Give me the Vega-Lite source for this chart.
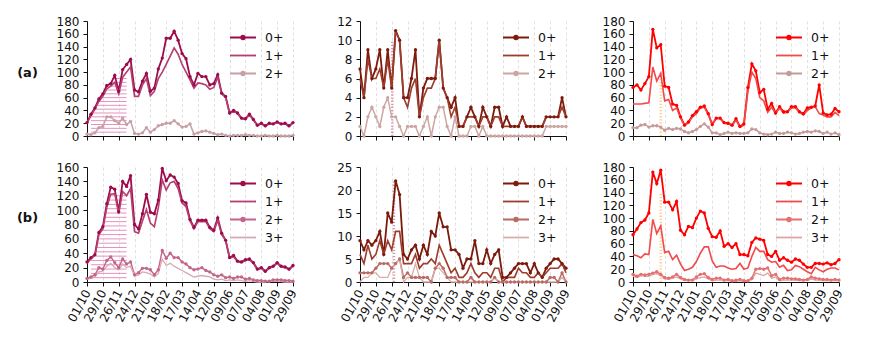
{
"$schema":"https://vega.github.io/schema/vega-lite/v6.json",
"padding":{"left":16,"top":15,"right":5,"bottom":5},
"config":{"font":"DejaVu Sans","view":{"stroke":null},
"axis":{"labelFontSize":12,"labelColor":"#111","domainColor":"#111","tickColor":"#111","tickSize":4,"labelPadding":4,"domainWidth":1,"tickWidth":1,"grid":false},
"axisX":{"grid":true,"gridColor":"#d9d9d9","gridDash":[3,2.5],"gridWidth":0.8,"labelOverlap":false,"labelFlush":false},
"legend":{"orient":"top-right","offset":9,"padding":0,"labelFontSize":12.5,"labelColor":"#111","symbolSize":169,"labelOffset":8,"rowPadding":4,"symbolStrokeWidth":1.8}},
"datasets":{
"series":[
{"p":"a1","d":[1569888000000,1570492800000,1571097600000,1571702400000,1572307200000,1572912000000,1573516800000,1574121600000,1574726400000,1575331200000,1575936000000,1576540800000,1577145600000,1577750400000,1578355200000,1578960000000,1579564800000,1580169600000,1580774400000,1581379200000,1581984000000,1582588800000,1583193600000,1583798400000,1584403200000,1585008000000,1585612800000,1586217600000,1586822400000,1587427200000,1588032000000,1588636800000,1589241600000,1589846400000,1590451200000,1591056000000,1591660800000,1592265600000,1592870400000,1593475200000,1594080000000,1594684800000,1595289600000,1595894400000,1596499200000,1597104000000,1597708800000,1598313600000,1598918400000,1599523200000,1600128000000,1600732800000,1601337600000],
"s0":[21,34,44,58,66,79,82,95,70,104,112,120,72,69,86,98,70,75,105,122,153,153,164,150,129,121,93,80,98,93,93,80,82,96,67,62,36,40,36,28,27,34,26,17,20,16,20,19,22,19,20,16,21],
"s1":[20,32,42,54,62,74,78,84,66,92,100,108,62,62,80,90,63,70,90,100,112,125,138,128,112,100,88,75,83,82,80,73,76,92,66,60,35,39,35,27,26,33,25,16,19,15,19,18,21,18,19,15,20],
"s2":[3,2,5,13,15,30,30,24,20,28,18,23,4,3,5,13,6,10,16,18,20,20,24,19,14,15,19,3,5,7,8,6,4,2,3,1,0,1,1,1,2,1,1,0,0,1,0,0,1,0,0,0,1]},
{"p":"a2","d":[1569888000000,1570492800000,1571097600000,1571702400000,1572307200000,1572912000000,1573516800000,1574121600000,1574726400000,1575331200000,1575936000000,1576540800000,1577145600000,1577750400000,1578355200000,1578960000000,1579564800000,1580169600000,1580774400000,1581379200000,1581984000000,1582588800000,1583193600000,1583798400000,1584403200000,1585008000000,1585612800000,1586217600000,1586822400000,1587427200000,1588032000000,1588636800000,1589241600000,1589846400000,1590451200000,1591056000000,1591660800000,1592265600000,1592870400000,1593475200000,1594080000000,1594684800000,1595289600000,1595894400000,1596499200000,1597104000000,1597708800000,1598313600000,1598918400000,1599523200000,1600128000000,1600732800000,1601337600000],
"s0":[7,4,9,6,7,9,5,9,5,11,10,4,4,6,9,2,5,6,6,6,10,5,4,3,4,1,1,2,3,2,1,3,2,1,3,3,1,2,1,1,1,2,1,1,1,1,1,2,2,2,2,4,2],
"s1":[6,4,8,6,6,7,5,8,5,11,10,4,3,5,6,2,4,5,5,6,10,5,4,2,3,1,1,2,2,2,1,2,2,1,2,2,1,1,1,1,1,2,1,1,1,1,1,2,2,2,2,3,2],
"s2":[1,0,2,3,2,1,3,4,2,2,1,0,1,1,1,0,1,2,0,2,3,3,1,0,2,0,0,0,1,1,0,1,0,0,0,0,0,0,0,0,0,0,0,0,0,0,0,1,1,1,1,1,1]},
{"p":"a3","d":[1569888000000,1570492800000,1571097600000,1571702400000,1572307200000,1572912000000,1573516800000,1574121600000,1574726400000,1575331200000,1575936000000,1576540800000,1577145600000,1577750400000,1578355200000,1578960000000,1579564800000,1580169600000,1580774400000,1581379200000,1581984000000,1582588800000,1583193600000,1583798400000,1584403200000,1585008000000,1585612800000,1586217600000,1586822400000,1587427200000,1588032000000,1588636800000,1589241600000,1589846400000,1590451200000,1591056000000,1591660800000,1592265600000,1592870400000,1593475200000,1594080000000,1594684800000,1595289600000,1595894400000,1596499200000,1597104000000,1597708800000,1598313600000,1598918400000,1599523200000,1600128000000,1600732800000,1601337600000],
"s0":[76,80,72,82,93,167,138,143,78,76,50,48,30,17,22,32,38,45,47,35,18,28,28,21,20,17,27,15,19,76,113,102,68,73,42,51,36,46,38,38,46,46,38,35,44,45,47,80,36,33,34,43,38],
"s1":[50,50,50,51,52,108,86,98,55,57,40,44,28,17,20,30,35,44,45,33,18,27,27,20,19,16,25,14,17,70,100,90,60,55,37,45,35,44,36,37,44,44,37,33,40,44,46,35,33,30,30,37,32],
"s2":[13,13,17,18,14,16,16,14,9,12,10,12,11,7,5,7,10,15,19,14,5,5,2,4,6,4,5,4,4,5,11,10,5,3,2,3,6,4,4,6,5,3,4,6,7,6,8,7,4,6,3,5,2]},
{"p":"b1","d":[1569888000000,1570492800000,1571097600000,1571702400000,1572307200000,1572912000000,1573516800000,1574121600000,1574726400000,1575331200000,1575936000000,1576540800000,1577145600000,1577750400000,1578355200000,1578960000000,1579564800000,1580169600000,1580774400000,1581379200000,1581984000000,1582588800000,1583193600000,1583798400000,1584403200000,1585008000000,1585612800000,1586217600000,1586822400000,1587427200000,1588032000000,1588636800000,1589241600000,1589846400000,1590451200000,1591056000000,1591660800000,1592265600000,1592870400000,1593475200000,1594080000000,1594684800000,1595289600000,1595894400000,1596499200000,1597104000000,1597708800000,1598313600000,1598918400000,1599523200000,1600128000000,1600732800000,1601337600000],
"s0":[28,34,38,69,77,109,132,129,98,140,133,148,80,74,95,122,97,95,114,158,141,149,146,137,113,110,87,76,86,86,86,76,72,89,68,58,34,37,29,28,31,32,27,18,20,15,20,22,27,22,21,18,23],
"s1":[26,32,37,66,74,104,122,123,95,126,120,130,70,68,85,101,82,77,103,142,128,138,140,130,110,105,85,74,84,84,84,74,70,86,66,58,33,35,28,27,30,31,26,17,19,14,19,21,26,21,20,17,22],
"s2":[5,7,10,20,18,30,35,27,20,32,25,28,10,13,19,19,17,10,17,44,33,40,34,34,28,25,20,17,18,20,16,14,10,8,10,6,7,5,7,7,4,5,3,2,2,1,1,3,3,3,2,2,1],
"s3":[4,5,7,14,15,22,26,20,17,25,20,22,8,10,14,13,11,7,12,32,23,26,22,19,16,13,10,7,8,9,8,7,4,3,4,2,3,2,3,2,1,2,1,0,0,0,1,1,1,1,0,0,0]},
{"p":"b2","d":[1569888000000,1570492800000,1571097600000,1571702400000,1572307200000,1572912000000,1573516800000,1574121600000,1574726400000,1575331200000,1575936000000,1576540800000,1577145600000,1577750400000,1578355200000,1578960000000,1579564800000,1580169600000,1580774400000,1581379200000,1581984000000,1582588800000,1583193600000,1583798400000,1584403200000,1585008000000,1585612800000,1586217600000,1586822400000,1587427200000,1588032000000,1588636800000,1589241600000,1589846400000,1590451200000,1591056000000,1591660800000,1592265600000,1592870400000,1593475200000,1594080000000,1594684800000,1595289600000,1595894400000,1596499200000,1597104000000,1597708800000,1598313600000,1598918400000,1599523200000,1600128000000,1600732800000,1601337600000],
"s0":[9,7,9,8,9,11,6,15,13,22,19,6,5,7,8,5,8,6,11,10,15,12,12,7,7,6,3,5,5,9,4,4,7,4,6,7,1,1,2,3,4,4,4,2,4,2,1,3,4,5,5,4,3],
"s1":[6,4,8,5,6,9,6,9,7,11,11,4,4,4,6,3,4,4,5,4,8,6,4,2,3,1,1,2,4,2,1,2,2,1,3,3,0,1,1,1,3,2,2,1,1,2,1,2,3,3,3,4,2],
"s2":[2,2,2,2,3,4,4,4,3,4,5,1,2,1,1,1,1,1,0,3,4,3,1,1,1,0,0,0,1,0,0,0,0,0,1,0,0,0,0,0,0,0,0,0,0,0,0,0,1,1,0,2,0],
"s3":[0,1,1,2,2,1,1,1,3,4,5,0,1,1,4,1,0,0,0,3,3,2,1,0,0,0,0,0,0,0,0,0,0,0,1,0,0,0,0,0,0,0,0,0,0,0,0,0,0,0,0,1,0]},
{"p":"b3","d":[1569888000000,1570492800000,1571097600000,1571702400000,1572307200000,1572912000000,1573516800000,1574121600000,1574726400000,1575331200000,1575936000000,1576540800000,1577145600000,1577750400000,1578355200000,1578960000000,1579564800000,1580169600000,1580774400000,1581379200000,1581984000000,1582588800000,1583193600000,1583798400000,1584403200000,1585008000000,1585612800000,1586217600000,1586822400000,1587427200000,1588032000000,1588636800000,1589241600000,1589846400000,1590451200000,1591056000000,1591660800000,1592265600000,1592870400000,1593475200000,1594080000000,1594684800000,1595289600000,1595894400000,1596499200000,1597104000000,1597708800000,1598313600000,1598918400000,1599523200000,1600128000000,1600732800000,1601337600000],
"s0":[74,83,93,97,108,172,154,175,125,125,113,126,81,74,87,85,100,111,108,84,71,70,80,56,60,54,60,43,43,41,62,69,67,65,43,40,48,34,38,34,31,36,34,28,23,23,29,29,28,30,27,29,35],
"s1":[43,41,38,44,43,98,76,88,46,48,35,42,28,18,20,23,32,45,55,55,33,23,25,25,22,20,21,29,20,22,40,54,48,48,35,31,32,23,26,18,19,26,24,20,16,13,23,19,16,20,22,22,19],
"s2":[12,9,12,11,12,14,16,12,7,6,8,12,7,4,3,3,8,12,13,7,4,6,6,3,4,2,3,4,2,2,6,20,21,20,22,10,12,4,6,6,5,5,4,3,4,8,6,5,4,4,3,4,3],
"s3":[9,7,10,9,9,12,13,10,5,4,6,8,5,2,2,2,5,7,8,5,2,3,3,2,2,1,1,2,1,1,4,14,12,10,14,6,8,2,3,3,3,3,2,2,2,5,3,3,2,2,2,2,2]}
],
"hatch":[
{"p":"a1","v":6,"d":"2019-10-08","d2":"2019-12-10"},{"p":"a1","v":12,"d":"2019-10-08","d2":"2019-12-10"},{"p":"a1","v":18,"d":"2019-10-08","d2":"2019-12-10"},{"p":"a1","v":24,"d":"2019-10-08","d2":"2019-12-10"},{"p":"a1","v":30,"d":"2019-10-08","d2":"2019-12-10"},{"p":"a1","v":36,"d":"2019-10-09","d2":"2019-12-10"},{"p":"a1","v":42,"d":"2019-10-14","d2":"2019-12-10"},{"p":"a1","v":48,"d":"2019-10-17","d2":"2019-12-10"},{"p":"a1","v":54,"d":"2019-10-20","d2":"2019-12-10"},{"p":"a1","v":60,"d":"2019-10-24","d2":"2019-12-10"},{"p":"a1","v":66,"d":"2019-10-29","d2":"2019-12-10"},{"p":"a1","v":72,"d":"2019-11-01","d2":"2019-12-10"},{"p":"a1","v":78,"d":"2019-11-05","d2":"2019-12-10"},{"p":"a1","v":84,"d":"2019-11-13","d2":"2019-12-10"},{"p":"a1","v":90,"d":"2019-11-16","d2":"2019-12-10"},
{"p":"b1","v":6,"d":"2019-10-08","d2":"2019-12-10"},{"p":"b1","v":12,"d":"2019-10-08","d2":"2019-12-10"},{"p":"b1","v":18,"d":"2019-10-08","d2":"2019-12-10"},{"p":"b1","v":24,"d":"2019-10-08","d2":"2019-12-10"},{"p":"b1","v":30,"d":"2019-10-08","d2":"2019-12-10"},{"p":"b1","v":36,"d":"2019-10-12","d2":"2019-12-10"},{"p":"b1","v":42,"d":"2019-10-16","d2":"2019-12-10"},{"p":"b1","v":48,"d":"2019-10-17","d2":"2019-12-10"},{"p":"b1","v":54,"d":"2019-10-19","d2":"2019-12-10"},{"p":"b1","v":60,"d":"2019-10-20","d2":"2019-12-10"},{"p":"b1","v":66,"d":"2019-10-21","d2":"2019-12-10"},{"p":"b1","v":72,"d":"2019-10-25","d2":"2019-12-10"},{"p":"b1","v":78,"d":"2019-10-29","d2":"2019-12-10"},{"p":"b1","v":84,"d":"2019-10-31","d2":"2019-12-10"},{"p":"b1","v":90,"d":"2019-11-01","d2":"2019-12-10"},{"p":"b1","v":96,"d":"2019-11-02","d2":"2019-12-10"},{"p":"b1","v":102,"d":"2019-11-04","d2":"2019-12-10"},{"p":"b1","v":108,"d":"2019-11-05","d2":"2019-12-10"},{"p":"b1","v":114,"d":"2019-11-07","d2":"2019-12-10"},{"p":"b1","v":120,"d":"2019-11-08","d2":"2019-12-10"}
],
"band":[
{"p":"a2","d":"2019-11-27","v":0,"v2":10},
{"p":"b2","d":"2019-11-30","v":0,"v2":22},
{"p":"a3","d":"2019-11-19","v":0,"v2":100},
{"p":"b3","d":"2019-11-19","v":0,"v2":140}
]
},
"columns":3,
"spacing":{"row":31,"column":67},
"bounds":"flush",
"resolve":{"scale":{"color":"independent"}},
"concat":[
{"width":206,"height":115,
"encoding":{"x":{"field":"d","type":"temporal","title":null,"scale":{"type":"utc","domain":[1569888000000,1601337600000],"nice":false},"axis":{"values":[1569888000000,1572307200000,1574726400000,1577145600000,1579564800000,1581984000000,1584403200000,1586822400000,1589241600000,1591660800000,1594080000000,1596499200000,1598918400000,1601337600000],"labels":false,"title":null}},
"y":{"field":"v","type":"quantitative","title":null,"scale":{"domain":[0,180],"nice":false},"axis":{"values":[0,20,40,60,80,100,120,140,160,180],"title":"(a)","titleAngle":0,"titleFontSize":13,"titleFontWeight":"bold","titleX":-60,"titleY":51,"titleAlign":"center","titleBaseline":"middle","titleColor":"#111"}}},
"layer":[
{"data":{"name":"hatch"},"transform":[{"filter":"datum.p == 'a1'"}],"mark":{"type":"rule","color":"#e592be","strokeWidth":1},"encoding":{"x2":{"field":"d2"}}},
{"data":{"name":"series"},"transform":[{"filter":"datum.p == 'a1'"},{"flatten":["d","s0","s1","s2"]},{"fold":["s0","s1","s2"],"as":["s","v"]}],
"layer":[
{"mark":{"type":"line"},"encoding":{"color":{"field":"s","type":"nominal","scale":{"domain":["s0","s1","s2"],"range":["#9c0c4c","#b53f70","#c6a0a6"]},"legend":{"title":null,"labelExpr":"substring(datum.label, 1) + '+'","encode":{"symbols":{"update":{"shape":{"signal":"datum.value == 's1' || datum.value == 's3' ? 'M-3,0H1' : 'M-3,0H1M-1.28,0A0.28,0.28,0,1,1,-0.72,0A0.28,0.28,0,1,1,-1.28,0'"},"stroke":{"signal":"datum.value == 's0' ? '#9c0c4c' : datum.value == 's1' ? '#b53f70' : '#c6a0a6'"},"fill":{"signal":"datum.value == 's0' ? '#9c0c4c' : datum.value == 's1' ? '#b53f70' : '#c6a0a6'"},"strokeWidth":{"value":1.8},"opacity":{"value":1}}}}}},"strokeWidth":{"field":"s","type":"nominal","scale":{"domain":["s0","s1","s2","s3"],"range":[1.8,1.3,1.3,1.1]},"legend":null}}},
{"transform":[{"filter":"datum.s == 's0' || datum.s == 's2'"}],"mark":{"type":"point","filled":true,"size":11,"opacity":1},"encoding":{"color":{"field":"s","type":"nominal","legend":null}}}
]}
]},
{"width":206,"height":115,
"encoding":{"x":{"field":"d","type":"temporal","title":null,"scale":{"type":"utc","domain":[1569888000000,1601337600000],"nice":false},"axis":{"values":[1569888000000,1572307200000,1574726400000,1577145600000,1579564800000,1581984000000,1584403200000,1586822400000,1589241600000,1591660800000,1594080000000,1596499200000,1598918400000,1601337600000],"labels":false,"title":null}},
"y":{"field":"v","type":"quantitative","title":null,"scale":{"domain":[0,12],"nice":false},"axis":{"values":[0,2,4,6,8,10,12],"title":null}}},
"layer":[
{"data":{"name":"band"},"transform":[{"filter":"datum.p == 'a2'"}],"mark":{"type":"rule","color":"#d99aab","strokeWidth":2.5,"strokeDash":[1.3,1.8]},"encoding":{"y2":{"field":"v2"}}},
{"data":{"name":"series"},"transform":[{"filter":"datum.p == 'a2'"},{"flatten":["d","s0","s1","s2"]},{"fold":["s0","s1","s2"],"as":["s","v"]}],
"layer":[
{"mark":{"type":"line"},"encoding":{"color":{"field":"s","type":"nominal","scale":{"domain":["s0","s1","s2"],"range":["#7c1a0c","#9e3d2e","#cba6a3"]},"legend":{"title":null,"labelExpr":"substring(datum.label, 1) + '+'","encode":{"symbols":{"update":{"shape":{"signal":"datum.value == 's1' || datum.value == 's3' ? 'M-3,0H1' : 'M-3,0H1M-1.28,0A0.28,0.28,0,1,1,-0.72,0A0.28,0.28,0,1,1,-1.28,0'"},"stroke":{"signal":"datum.value == 's0' ? '#7c1a0c' : datum.value == 's1' ? '#9e3d2e' : '#cba6a3'"},"fill":{"signal":"datum.value == 's0' ? '#7c1a0c' : datum.value == 's1' ? '#9e3d2e' : '#cba6a3'"},"strokeWidth":{"value":1.8},"opacity":{"value":1}}}}}},"strokeWidth":{"field":"s","type":"nominal","scale":{"domain":["s0","s1","s2","s3"],"range":[1.8,1.3,1.3,1.1]},"legend":null}}},
{"transform":[{"filter":"datum.s == 's0' || datum.s == 's2'"}],"mark":{"type":"point","filled":true,"size":11,"opacity":1},"encoding":{"color":{"field":"s","type":"nominal","legend":null}}}
]}
]},
{"width":206,"height":115,
"encoding":{"x":{"field":"d","type":"temporal","title":null,"scale":{"type":"utc","domain":[1569888000000,1601337600000],"nice":false},"axis":{"values":[1569888000000,1572307200000,1574726400000,1577145600000,1579564800000,1581984000000,1584403200000,1586822400000,1589241600000,1591660800000,1594080000000,1596499200000,1598918400000,1601337600000],"labels":false,"title":null}},
"y":{"field":"v","type":"quantitative","title":null,"scale":{"domain":[0,180],"nice":false},"axis":{"values":[0,20,40,60,80,100,120,140,160,180],"title":null}}},
"layer":[
{"data":{"name":"band"},"transform":[{"filter":"datum.p == 'a3'"}],"mark":{"type":"rule","color":"#ffcf90","strokeWidth":2.5,"strokeDash":[1.3,1.8]},"encoding":{"y2":{"field":"v2"}}},
{"data":{"name":"series"},"transform":[{"filter":"datum.p == 'a3'"},{"flatten":["d","s0","s1","s2"]},{"fold":["s0","s1","s2"],"as":["s","v"]}],
"layer":[
{"mark":{"type":"line"},"encoding":{"color":{"field":"s","type":"nominal","scale":{"domain":["s0","s1","s2"],"range":["#ff0000","#f24b4b","#c59b99"]},"legend":{"title":null,"labelExpr":"substring(datum.label, 1) + '+'","encode":{"symbols":{"update":{"shape":{"signal":"datum.value == 's1' || datum.value == 's3' ? 'M-3,0H1' : 'M-3,0H1M-1.28,0A0.28,0.28,0,1,1,-0.72,0A0.28,0.28,0,1,1,-1.28,0'"},"stroke":{"signal":"datum.value == 's0' ? '#ff0000' : datum.value == 's1' ? '#f24b4b' : '#c59b99'"},"fill":{"signal":"datum.value == 's0' ? '#ff0000' : datum.value == 's1' ? '#f24b4b' : '#c59b99'"},"strokeWidth":{"value":1.8},"opacity":{"value":1}}}}}},"strokeWidth":{"field":"s","type":"nominal","scale":{"domain":["s0","s1","s2","s3"],"range":[1.8,1.3,1.3,1.1]},"legend":null}}},
{"transform":[{"filter":"datum.s == 's0' || datum.s == 's2'"}],"mark":{"type":"point","filled":true,"size":11,"opacity":1},"encoding":{"color":{"field":"s","type":"nominal","legend":null}}}
]}
]},
{"width":206,"height":115,
"encoding":{"x":{"field":"d","type":"temporal","title":null,"scale":{"type":"utc","domain":[1569888000000,1601337600000],"nice":false},"axis":{"values":[1569888000000,1572307200000,1574726400000,1577145600000,1579564800000,1581984000000,1584403200000,1586822400000,1589241600000,1591660800000,1594080000000,1596499200000,1598918400000,1601337600000],"format":"%d/%m","labelAngle":-62,"title":null}},
"y":{"field":"v","type":"quantitative","title":null,"scale":{"domain":[0,160],"nice":false},"axis":{"values":[0,20,40,60,80,100,120,140,160],"title":"(b)","titleAngle":0,"titleFontSize":13,"titleFontWeight":"bold","titleX":-60,"titleY":50,"titleAlign":"center","titleBaseline":"middle","titleColor":"#111"}}},
"layer":[
{"data":{"name":"hatch"},"transform":[{"filter":"datum.p == 'b1'"}],"mark":{"type":"rule","color":"#e592be","strokeWidth":1},"encoding":{"x2":{"field":"d2"}}},
{"data":{"name":"series"},"transform":[{"filter":"datum.p == 'b1'"},{"flatten":["d","s0","s1","s2","s3"]},{"fold":["s0","s1","s2","s3"],"as":["s","v"]}],
"layer":[
{"mark":{"type":"line"},"encoding":{"color":{"field":"s","type":"nominal","scale":{"domain":["s0","s1","s2","s3"],"range":["#9c0c4c","#b53f70","#c4668c","#d7aab3"]},"legend":{"title":null,"labelExpr":"substring(datum.label, 1) + '+'","encode":{"symbols":{"update":{"shape":{"signal":"datum.value == 's1' || datum.value == 's3' ? 'M-3,0H1' : 'M-3,0H1M-1.28,0A0.28,0.28,0,1,1,-0.72,0A0.28,0.28,0,1,1,-1.28,0'"},"stroke":{"signal":"datum.value == 's0' ? '#9c0c4c' : datum.value == 's1' ? '#b53f70' : datum.value == 's2' ? '#c4668c' : '#d7aab3'"},"fill":{"signal":"datum.value == 's0' ? '#9c0c4c' : datum.value == 's1' ? '#b53f70' : datum.value == 's2' ? '#c4668c' : '#d7aab3'"},"strokeWidth":{"value":1.8},"opacity":{"value":1}}}}}},"strokeWidth":{"field":"s","type":"nominal","scale":{"domain":["s0","s1","s2","s3"],"range":[1.8,1.3,1.3,1.1]},"legend":null}}},
{"transform":[{"filter":"datum.s == 's0' || datum.s == 's2'"}],"mark":{"type":"point","filled":true,"size":11,"opacity":1},"encoding":{"color":{"field":"s","type":"nominal","legend":null}}}
]}
]},
{"width":206,"height":115,
"encoding":{"x":{"field":"d","type":"temporal","title":null,"scale":{"type":"utc","domain":[1569888000000,1601337600000],"nice":false},"axis":{"values":[1569888000000,1572307200000,1574726400000,1577145600000,1579564800000,1581984000000,1584403200000,1586822400000,1589241600000,1591660800000,1594080000000,1596499200000,1598918400000,1601337600000],"format":"%d/%m","labelAngle":-62,"title":null}},
"y":{"field":"v","type":"quantitative","title":null,"scale":{"domain":[0,25],"nice":false},"axis":{"values":[0,5,10,15,20,25],"title":null}}},
"layer":[
{"data":{"name":"band"},"transform":[{"filter":"datum.p == 'b2'"}],"mark":{"type":"rule","color":"#d99aab","strokeWidth":2.5,"strokeDash":[1.3,1.8]},"encoding":{"y2":{"field":"v2"}}},
{"data":{"name":"series"},"transform":[{"filter":"datum.p == 'b2'"},{"flatten":["d","s0","s1","s2","s3"]},{"fold":["s0","s1","s2","s3"],"as":["s","v"]}],
"layer":[
{"mark":{"type":"line"},"encoding":{"color":{"field":"s","type":"nominal","scale":{"domain":["s0","s1","s2","s3"],"range":["#7c1a0c","#9e3d2e","#b86a63","#d6aeaa"]},"legend":{"title":null,"labelExpr":"substring(datum.label, 1) + '+'","encode":{"symbols":{"update":{"shape":{"signal":"datum.value == 's1' || datum.value == 's3' ? 'M-3,0H1' : 'M-3,0H1M-1.28,0A0.28,0.28,0,1,1,-0.72,0A0.28,0.28,0,1,1,-1.28,0'"},"stroke":{"signal":"datum.value == 's0' ? '#7c1a0c' : datum.value == 's1' ? '#9e3d2e' : datum.value == 's2' ? '#b86a63' : '#d6aeaa'"},"fill":{"signal":"datum.value == 's0' ? '#7c1a0c' : datum.value == 's1' ? '#9e3d2e' : datum.value == 's2' ? '#b86a63' : '#d6aeaa'"},"strokeWidth":{"value":1.8},"opacity":{"value":1}}}}}},"strokeWidth":{"field":"s","type":"nominal","scale":{"domain":["s0","s1","s2","s3"],"range":[1.8,1.3,1.3,1.1]},"legend":null}}},
{"transform":[{"filter":"datum.s == 's0' || datum.s == 's2'"}],"mark":{"type":"point","filled":true,"size":11,"opacity":1},"encoding":{"color":{"field":"s","type":"nominal","legend":null}}}
]}
]},
{"width":206,"height":115,
"encoding":{"x":{"field":"d","type":"temporal","title":null,"scale":{"type":"utc","domain":[1569888000000,1601337600000],"nice":false},"axis":{"values":[1569888000000,1572307200000,1574726400000,1577145600000,1579564800000,1581984000000,1584403200000,1586822400000,1589241600000,1591660800000,1594080000000,1596499200000,1598918400000,1601337600000],"format":"%d/%m","labelAngle":-62,"title":null}},
"y":{"field":"v","type":"quantitative","title":null,"scale":{"domain":[0,180],"nice":false},"axis":{"values":[0,20,40,60,80,100,120,140,160,180],"title":null}}},
"layer":[
{"data":{"name":"band"},"transform":[{"filter":"datum.p == 'b3'"}],"mark":{"type":"rule","color":"#ffcf90","strokeWidth":2.5,"strokeDash":[1.3,1.8]},"encoding":{"y2":{"field":"v2"}}},
{"data":{"name":"series"},"transform":[{"filter":"datum.p == 'b3'"},{"flatten":["d","s0","s1","s2","s3"]},{"fold":["s0","s1","s2","s3"],"as":["s","v"]}],
"layer":[
{"mark":{"type":"line"},"encoding":{"color":{"field":"s","type":"nominal","scale":{"domain":["s0","s1","s2","s3"],"range":["#ff0000","#f24b4b","#e4706f","#dba4a4"]},"legend":{"title":null,"labelExpr":"substring(datum.label, 1) + '+'","encode":{"symbols":{"update":{"shape":{"signal":"datum.value == 's1' || datum.value == 's3' ? 'M-3,0H1' : 'M-3,0H1M-1.28,0A0.28,0.28,0,1,1,-0.72,0A0.28,0.28,0,1,1,-1.28,0'"},"stroke":{"signal":"datum.value == 's0' ? '#ff0000' : datum.value == 's1' ? '#f24b4b' : datum.value == 's2' ? '#e4706f' : '#dba4a4'"},"fill":{"signal":"datum.value == 's0' ? '#ff0000' : datum.value == 's1' ? '#f24b4b' : datum.value == 's2' ? '#e4706f' : '#dba4a4'"},"strokeWidth":{"value":1.8},"opacity":{"value":1}}}}}},"strokeWidth":{"field":"s","type":"nominal","scale":{"domain":["s0","s1","s2","s3"],"range":[1.8,1.3,1.3,1.1]},"legend":null}}},
{"transform":[{"filter":"datum.s == 's0' || datum.s == 's2'"}],"mark":{"type":"point","filled":true,"size":11,"opacity":1},"encoding":{"color":{"field":"s","type":"nominal","legend":null}}}
]}
]}
]
}
